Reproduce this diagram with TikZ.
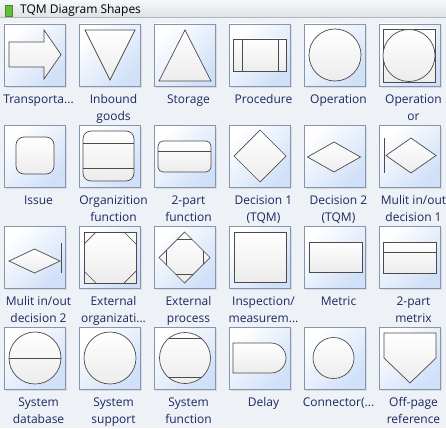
\documentclass[tikz,border=0pt]{standalone}
\usepackage{fontspec}
\setmainfont{Open Sans}
\definecolor{bg}{RGB}{238,241,246}
\definecolor{tileborder}{RGB}{135,148,170}
\definecolor{tileblue}{RGB}{208,224,248}
\definecolor{shapeline}{RGB}{75,75,75}
\definecolor{shapefill}{RGB}{236,236,236}
\definecolor{lbltext}{RGB}{26,40,96}
\definecolor{titletop}{RGB}{246,247,249}
\definecolor{titlebot}{RGB}{222,225,230}
\definecolor{iconGreen}{RGB}{96,190,60}
\tikzset{
  tile/.style={draw=tileborder, line width=0.8pt, minimum width=61pt, minimum height=62pt,
    inner sep=0pt, left color=white, right color=tileblue, shading angle=45},
  shp/.style={draw=shapeline, line width=0.7pt, top color=white, bottom color=shapefill},
  ln/.style={draw=shapeline, line width=0.7pt},
  lbl/.style={anchor=base, text=lbltext, font=\fontsize{12}{14}\selectfont, inner sep=0pt},
}
\begin{document}
\begin{tikzpicture}[x=1pt,y=-1pt]
\useasboundingbox (0,0) rectangle (446,428);
\fill[bg] (0,0) rectangle (446,428);
% title bar
\shade[top color=titletop, bottom color=titlebot] (0,0) rectangle (446,17);
\draw[color={rgb,255:red,180;green,185;blue,193}, line width=0.8pt] (0,17) -- (446,17);
\node[draw={rgb,255:red,70;green,140;blue,40}, line width=0.6pt, fill=iconGreen, minimum width=7pt, minimum height=11pt, inner sep=0pt] (icon) at (8.5,10.5) {};
\node[anchor=base west, inner sep=0pt, font=\fontsize{12}{14}\selectfont] (title) at (20,14) {TQM Diagram Shapes};
% tiles
\foreach \r in {0,...,3}{\foreach \c in {0,...,5}{
  \fill[color={rgb,255:red,215;green,221;blue,230}] (5.5+75*\c,25.5+101*\r) rectangle ++(61,62);
  \node[tile] (t\r\c) at (34.5+75*\c, 55+101*\r) {};
}}
% ---------- row 0
\begin{scope}[shift={(4,24)}]
  \draw[shp] (5,18) -- (40,18) -- (40,6) -- (57,30.5) -- (40,55) -- (40,43) -- (5,43) -- cycle;
\end{scope}
\begin{scope}[shift={(79,24)}]
  \draw[shp] (6,6) -- (56,6) -- (31,56) -- cycle;
\end{scope}
\begin{scope}[shift={(154,24)}]
  \draw[shp] (31,6) -- (57,57) -- (5,57) -- cycle;
\end{scope}
\begin{scope}[shift={(229,24)}]
  \draw[shp] (4,15) rectangle (57,47);
  \draw[ln] (13,15) -- (13,47) (49,15) -- (49,47);
\end{scope}
\begin{scope}[shift={(304,24)}]
  \draw[shp] (31,31) circle[radius=26];
\end{scope}
\begin{scope}[shift={(379,24)}]
  \draw[shp] (4,5) rectangle (56,58);
  \draw[shp] (30,31.5) circle[radius=26];
\end{scope}
% ---------- row 1
\begin{scope}[shift={(4,125)}]
  \draw[shp, rounded corners=8pt] (12,12) rectangle (50,49);
\end{scope}
\begin{scope}[shift={(79,125)}]
  \draw[shp, rounded corners=8pt] (4,6) rectangle (55,56);
  \draw[ln] (4,18) -- (55,18) (4,43) -- (55,43);
\end{scope}
\begin{scope}[shift={(154,125)}]
  \draw[shp, rounded corners=5pt] (4,16) rectangle (57,47);
  \draw[ln] (4,26) -- (57,26);
\end{scope}
\begin{scope}[shift={(229,125)}]
  \draw[shp] (31,5) -- (57,31) -- (31,57) -- (5,31) -- cycle;
\end{scope}
\begin{scope}[shift={(304,125)}]
  \draw[shp] (30,17) -- (56.5,32) -- (30,47) -- (3.5,32) -- cycle;
\end{scope}
\begin{scope}[shift={(379,125)}]
  \draw[ln] (5,13) -- (5,48);
  \draw[shp] (32,13) -- (57,30.5) -- (32,48) -- (7,30.5) -- cycle;
\end{scope}
% ---------- row 2
\begin{scope}[shift={(4,226)}]
  \draw[shp] (30.5,23) -- (56,35) -- (30.5,47) -- (5,35) -- cycle;
  \draw[ln] (57,17) -- (57,47);
\end{scope}
\begin{scope}[shift={(79,226)}]
  \draw[shp] (5,6) rectangle (57,57);
  \draw[ln] (5,18) -- (17,6) (45,6) -- (57,18) (57,45) -- (45,57) (17,57) -- (5,45);
\end{scope}
\begin{scope}[shift={(154,226)}]
  \draw[shp] (30.5,6) -- (56,31.5) -- (30.5,57) -- (5,31.5) -- cycle;
  \begin{scope}
    \clip (30.5,6) -- (56,31.5) -- (30.5,57) -- (5,31.5) -- cycle;
    \draw[ln] (12,13) rectangle (49,48);
  \end{scope}
\end{scope}
\begin{scope}[shift={(229,226)}]
  \draw[shp] (5,6) rectangle (57,56);
\end{scope}
\begin{scope}[shift={(304,226)}]
  \draw[shp] (5,16) rectangle (58,46);
\end{scope}
\begin{scope}[shift={(379,226)}]
  \draw[shp] (4,16) rectangle (57,47);
  \draw[ln] (4,26) -- (57,26);
\end{scope}
% ---------- row 3
\begin{scope}[shift={(4,327)}]
  \draw[shp] (31,31) circle[radius=26];
  \draw[ln] (5,31) -- (57,31);
\end{scope}
\begin{scope}[shift={(79,327)}]
  \draw[shp] (31,31) circle[radius=26];
\end{scope}
\begin{scope}[shift={(154,327)}]
  \draw[shp] (31,31) circle[radius=25.5];
  \draw[ln] (14.5,11.5) -- (47.5,11.5) (14.5,50.5) -- (47.5,50.5);
\end{scope}
\begin{scope}[shift={(229,327)}]
  \draw[shp] (4,16) -- (42,16) arc[start angle=-90, end angle=90, radius=15] -- (4,46) -- cycle;
\end{scope}
\begin{scope}[shift={(304,327)}]
  \draw[shp] (29.5,31) circle[radius=20.5];
\end{scope}
\begin{scope}[shift={(379,327)}]
  \draw[shp] (5,6) -- (57,6) -- (57,31) -- (31,56) -- (5,31) -- cycle;
\end{scope}
% ---------- labels
\node[lbl] (l00) at (38.5,103) {Transporta...};
\node[lbl] (l01) at (113.5,103) {Inbound};
\node[lbl] (l01b) at (113.5,120) {goods};
\node[lbl] (l02) at (188.5,103) {Storage};
\node[lbl] (l03) at (263.5,103) {Procedure};
\node[lbl] (l04) at (338.5,103) {Operation};
\node[lbl] (l05) at (413.5,103) {Operation};
\node[lbl] (l05b) at (413.5,120) {or};
\node[lbl] (l10) at (38.5,204) {Issue};
\node[lbl] (l11) at (113.5,204) {Organizition};
\node[lbl] (l11b) at (113.5,221) {function};
\node[lbl] (l12) at (188.5,204) {2-part};
\node[lbl] (l12b) at (188.5,221) {function};
\node[lbl] (l13) at (263.5,204) {Decision 1};
\node[lbl] (l13b) at (263.5,221) {(TQM)};
\node[lbl] (l14) at (338.5,204) {Decision 2};
\node[lbl] (l14b) at (338.5,221) {(TQM)};
\node[lbl] (l15) at (413.5,204) {Mulit in/out};
\node[lbl] (l15b) at (413.5,221) {decision 1};
\node[lbl] (l20) at (38.5,305) {Mulit in/out};
\node[lbl] (l20b) at (38.5,322) {decision 2};
\node[lbl] (l21) at (113.5,305) {External};
\node[lbl] (l21b) at (113.5,322) {organizati...};
\node[lbl] (l22) at (188.5,305) {External};
\node[lbl] (l22b) at (188.5,322) {process};
\node[lbl] (l23) at (263.5,305) {Inspection/};
\node[lbl] (l23b) at (263.5,322) {measurem...};
\node[lbl] (l24) at (338.5,305) {Metric};
\node[lbl] (l25) at (413.5,305) {2-part};
\node[lbl] (l25b) at (413.5,322) {metrix};
\node[lbl] (l30) at (38.5,406) {System};
\node[lbl] (l30b) at (38.5,423) {database};
\node[lbl] (l31) at (113.5,406) {System};
\node[lbl] (l31b) at (113.5,423) {support};
\node[lbl] (l32) at (188.5,406) {System};
\node[lbl] (l32b) at (188.5,423) {function};
\node[lbl] (l33) at (263.5,406) {Delay};
\node[lbl] (l34) at (338.5,406) {Connector(...};
\node[lbl] (l35) at (413.5,406) {Off-page};
\node[lbl] (l35b) at (413.5,423) {reference};
\end{tikzpicture}
\end{document}
